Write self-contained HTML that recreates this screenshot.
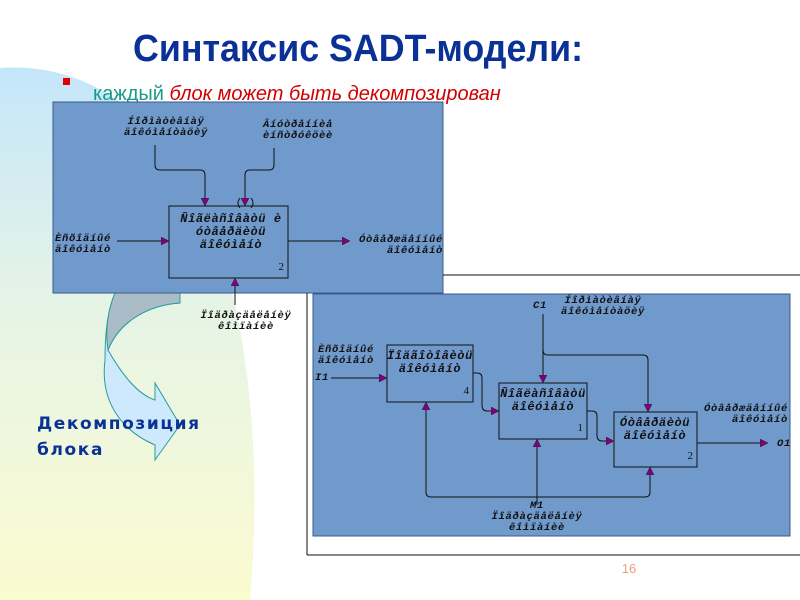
<!DOCTYPE html>
<html><head><meta charset="utf-8"><style>
html,body{margin:0;padding:0;width:800px;height:600px;overflow:hidden;background:#fff}
svg{display:block}
.m{font-family:"Liberation Mono",monospace;font-weight:bold;font-style:italic;font-size:10.5px;letter-spacing:0.7px;fill:#111}
.b{font-family:"Liberation Mono",monospace;font-weight:bold;font-style:italic;font-size:12px;letter-spacing:0.6px;fill:#111}
.n{font-family:"Liberation Serif",serif;font-size:11px;fill:#111}
</style></head><body>
<svg width="800" height="600" viewBox="0 0 800 600" xmlns="http://www.w3.org/2000/svg">
<defs>
<linearGradient id="bg" x1="0" y1="0" x2="0" y2="1">
<stop offset="0" stop-color="#c4e6fa"/><stop offset="0.45" stop-color="#e6f4e6"/><stop offset="1" stop-color="#fbfbd0"/>
</linearGradient>
<marker id="ar" markerWidth="8" markerHeight="8" refX="7" refY="4" orient="auto" markerUnits="userSpaceOnUse">
<path d="M0,0 L8,4 L0,8 Z" fill="#800080" stroke="#222" stroke-width="0.5"/></marker>
</defs>
<path d="M0,68 C120,60 210,160 240,330 C260,440 255,540 250,600 L0,600 Z" fill="url(#bg)"/>
<text x="133" y="61" font-family="Liberation Sans,sans-serif" font-weight="bold" font-size="38" fill="#0a3296" textLength="450" lengthAdjust="spacingAndGlyphs">Синтаксис SADT-модели:</text>
<rect x="63" y="78" width="7" height="7" fill="#e00000"/>
<text x="93" y="100" font-family="Liberation Sans,sans-serif" font-size="20" fill="#1a9a8a">каждый <tspan fill="#d00000" font-style="italic">блок может быть декомпозирован</tspan></text>

<path d="M115,293 L180,293 L180,303 C150,305 120,320 108,350 C125,380 140,395 155,400 L155,383 L180,425 L155,460 L155,445 C120,430 100,400 105,360 C105,330 108,310 115,293 Z" fill="#cde9fb" stroke="#2a9d9d" stroke-width="1"/>
<path d="M115,293 L180,293 L180,303 C150,305 120,320 108,350 C105,330 108,310 115,293 Z" fill="#a9bcc8" stroke="#2a9d9d" stroke-width="1"/>
<text x="37" y="429" font-family="DejaVu Sans,sans-serif" font-weight="bold" font-size="17" fill="#0a3296" letter-spacing="1.6">Декомпозиция</text>
<text x="37" y="455" font-family="DejaVu Sans,sans-serif" font-weight="bold" font-size="17" fill="#0a3296" letter-spacing="1.6">блока</text>

<rect x="53" y="102" width="390" height="191" fill="#7099cc" stroke="#3a5a8a" stroke-width="1"/>
<rect x="169" y="206" width="119" height="72" fill="none" stroke="#111" stroke-width="1"/>
<text class="b" x="231" y="222" text-anchor="middle">Ñîãëàñîâàòü è</text>
<text class="b" x="231" y="235" text-anchor="middle">óòâåðäèòü</text>
<text class="b" x="231" y="248" text-anchor="middle">äîêóìåíò</text>
<text class="n" x="284" y="270" text-anchor="end">2</text>
<text class="m" x="166" y="124" text-anchor="middle">Íîðìàòèâíàÿ</text>
<text class="m" x="166" y="135" text-anchor="middle">äîêóìåíòàöèÿ</text>
<text class="m" x="298" y="127" text-anchor="middle">Âíóòðåííèå</text>
<text class="m" x="298" y="138" text-anchor="middle">èíñòðóêöèè</text>
<path d="M155,145 V165 Q155,170 160,170 H200 Q205,170 205,175 V205" fill="none" stroke="#111" marker-end="url(#ar)"/>
<path d="M274,148 V165 Q274,170 269,170 H250 Q245,170 245,175 V205" fill="none" stroke="#111" marker-end="url(#ar)"/>
<path d="M240,198 Q236,203 240,208 M251,198 Q255,203 251,208" fill="none" stroke="#111"/>
<text class="m" x="55" y="241">Èñõîäíûé</text>
<text class="m" x="55" y="252">äîêóìåíò</text>
<line x1="117" y1="241" x2="168" y2="241" stroke="#111" marker-end="url(#ar)"/>
<line x1="288" y1="241" x2="349" y2="241" stroke="#111" marker-end="url(#ar)"/>
<text class="m" x="443" y="242" text-anchor="end">Óòâåðæäåííûé</text>
<text class="m" x="443" y="253" text-anchor="end">äîêóìåíò</text>
<line x1="235" y1="305" x2="235" y2="279" stroke="#111" marker-end="url(#ar)"/>
<text class="m" x="246" y="318" text-anchor="middle">Ïîäðàçäåëåíèÿ</text>
<text class="m" x="246" y="329" text-anchor="middle">êîìïàíèè</text>

<line x1="443" y1="275" x2="800" y2="275" stroke="#111"/>
<line x1="307" y1="293" x2="307" y2="555" stroke="#111"/>
<line x1="307" y1="555" x2="800" y2="555" stroke="#111"/>
<rect x="313" y="294" width="477" height="242" fill="#7099cc" stroke="#3a5a8a" stroke-width="1"/>
<rect x="387" y="345" width="86" height="57" fill="none" stroke="#111"/>
<text class="b" x="430" y="359" text-anchor="middle">Ïîäãîòîâèòü</text>
<text class="b" x="430" y="372" text-anchor="middle">äîêóìåíò</text>
<text class="n" x="469" y="394" text-anchor="end">4</text>
<rect x="499" y="383" width="88" height="56" fill="none" stroke="#111"/>
<text class="b" x="543" y="397" text-anchor="middle">Ñîãëàñîâàòü</text>
<text class="b" x="543" y="410" text-anchor="middle">äîêóìåíò</text>
<text class="n" x="583" y="431" text-anchor="end">1</text>
<rect x="614" y="412" width="83" height="55" fill="none" stroke="#111"/>
<text class="b" x="655" y="426" text-anchor="middle">Óòâåðäèòü</text>
<text class="b" x="655" y="439" text-anchor="middle">äîêóìåíò</text>
<text class="n" x="693" y="459" text-anchor="end">2</text>
<text class="m" x="540" y="308" text-anchor="middle">C1</text>
<text class="m" x="603" y="303" text-anchor="middle">Íîðìàòèâíàÿ</text>
<text class="m" x="603" y="314" text-anchor="middle">äîêóìåíòàöèÿ</text>
<line x1="543" y1="314" x2="543" y2="382" stroke="#111" marker-end="url(#ar)"/>
<path d="M543,350 Q543,355 548,355 H643 Q648,355 648,360 V411" fill="none" stroke="#111" marker-end="url(#ar)"/>
<text class="m" x="318" y="352">Èñõîäíûé</text>
<text class="m" x="318" y="363">äîêóìåíò</text>
<text class="m" x="315" y="380">I1</text>
<line x1="331" y1="378" x2="386" y2="378" stroke="#111" marker-end="url(#ar)"/>
<path d="M473,373 H477 Q482,373 482,378 V405 Q482,411 487,411 H498" fill="none" stroke="#111" marker-end="url(#ar)"/>
<path d="M587,411 H592 Q597,411 597,416 V435 Q597,441 602,441 H613" fill="none" stroke="#111" marker-end="url(#ar)"/>
<line x1="697" y1="443" x2="767" y2="443" stroke="#111" marker-end="url(#ar)"/>
<text class="m" x="777" y="446">O1</text>
<text class="m" x="788" y="411" text-anchor="end">Óòâåðæäåííûé</text>
<text class="m" x="788" y="422" text-anchor="end">äîêóìåíò</text>
<line x1="537" y1="497" x2="537" y2="440" stroke="#111" marker-end="url(#ar)"/>
<path d="M537,497 H431 Q426,497 426,492 V403" fill="none" stroke="#111" marker-end="url(#ar)"/>
<path d="M537,497 H645 Q650,497 650,492 V468" fill="none" stroke="#111" marker-end="url(#ar)"/>
<line x1="537" y1="497" x2="537" y2="505" stroke="#111"/>
<text class="m" x="537" y="508" text-anchor="middle">M1</text>
<text class="m" x="537" y="519" text-anchor="middle">Ïîäðàçäåëåíèÿ</text>
<text class="m" x="537" y="530" text-anchor="middle">êîìïàíèè</text>
<text x="629" y="573" font-family="Liberation Sans,sans-serif" font-size="13" fill="#e8a080" text-anchor="middle">16</text>
</svg>
</body></html>
